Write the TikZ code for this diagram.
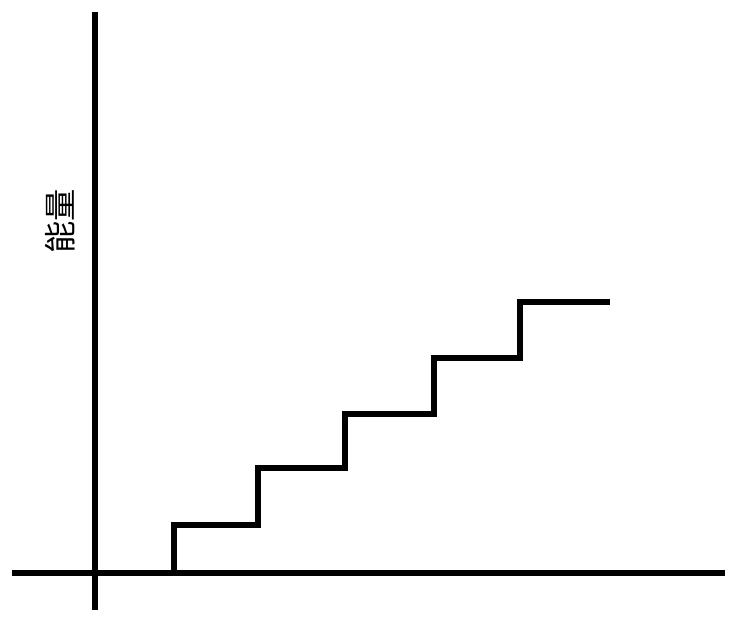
\documentclass[tikz,border=0pt]{standalone}
\usepackage{fontspec}
\newfontfamily\cjk{Noto Sans CJK SC}
\usepackage{tikz}
\tikzset{axis/.style={line width=3.6pt}, stair/.style={line width=3.6pt, line join=miter}}

\begin{document}
\begin{tikzpicture}[x=0.025cm,y=-0.025cm]
\useasboundingbox (0,0) rectangle (729,617);
\coordinate (x-left) at (12,573);
\coordinate (x-right) at (725,573);
\coordinate (y-top) at (95,12);
\coordinate (y-bottom) at (95,610);

\draw[axis] (x-left) -- (x-right);
\draw[axis] (y-bottom) -- (y-top);

\node[rotate=90] (energy) at (60,221) {\cjk\fontsize{23}{23}\selectfont 能量};

%\draw[stair] (174,573) |- (258,525);
\draw[stair] (174,573) |- (258,525) |- (345,468) |- (434,414) |- (520,358) |- (610,302);
\end{tikzpicture}
\end{document}
